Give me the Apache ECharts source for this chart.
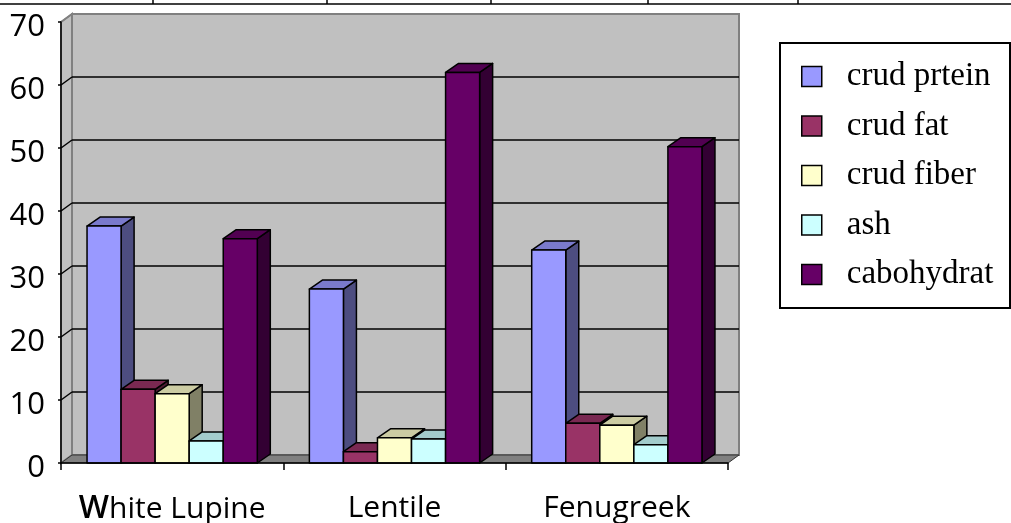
<!DOCTYPE html>
<html>
<head>
<meta charset="utf-8">
<script src="https://cdn.jsdelivr.net/npm/echarts@6/dist/echarts.min.js"></script>
<style>
html,body{margin:0;padding:0;background:#fff;}
#chart{width:1011px;height:523px;}
</style>
</head>
<body>
<div id="chart"></div>
<script>
// ---- data ----
const categories = ['White Lupine', 'Lentile', 'Fenugreek'];
const seriesNames = ['crud prtein', 'crud fat', 'crud fiber', 'ash', 'cabohydrat'];
const crudProtein = [37.6, 27.6, 33.8];
const crudFat = [11.7, 1.8, 6.3];
const crudFiber = [11.0, 4.0, 6.0];
const ash = [3.5, 3.8, 2.9];
const cabohydrat = [35.6, 62.0, 50.2];
const yTickValues = [0, 10, 20, 30, 40, 50, 60, 70];

const seriesValues = [crudProtein, crudFat, crudFiber, ash, cabohydrat];

// ---- style ----
const frontColors = ['#9999ff', '#993366', '#ffffcc', '#ccffff', '#660066'];
const topColors   = ['#7a7acc', '#7a2952', '#cccca3', '#a3cccc', '#520052'];
const sideColors  = ['#4d4d80', '#4d1a33', '#808066', '#668080', '#330033'];
const BAR_FRAC = 34 / 222;
const BAR_DX = 13, BAR_DY = 9;
const WALL_DX = 11, WALL_DY = 8;

const chart = echarts.init(document.getElementById('chart'), null, {renderer: 'canvas'});

function barRenderer(sIdx) {
  return function (params, api) {
    const cat = api.value(0), val = api.value(1);
    const base = api.coord([cat, 0]);
    const top = api.coord([cat, val]);
    const band = api.size([1, 0])[0];
    const w = band * BAR_FRAC;
    const x0 = base[0] - 2.5 * w + sIdx * w;
    const x1 = x0 + w;
    const yb = base[1], yt = top[1];
    const lineStyle = {stroke: '#000', lineWidth: 1.5, lineJoin: 'round'};
    return {
      type: 'group',
      children: [
        {type: 'polygon', shape: {points: [[x1, yt], [x1 + BAR_DX, yt - BAR_DY], [x1 + BAR_DX, yb - BAR_DY], [x1, yb]]},
          style: Object.assign({fill: sideColors[sIdx]}, lineStyle)},
        {type: 'polygon', shape: {points: [[x0, yt], [x0 + BAR_DX, yt - BAR_DY], [x1 + BAR_DX, yt - BAR_DY], [x1, yt]]},
          style: Object.assign({fill: topColors[sIdx]}, lineStyle)},
        {type: 'polygon', shape: {points: [[x0, yt], [x1, yt], [x1, yb], [x0, yb]]},
          style: Object.assign({fill: frontColors[sIdx]}, lineStyle)}
      ]
    };
  };
}

function frameRenderer(params, api) {
  const c0 = api.coord([0, 0]);
  const band = api.size([1, 0])[0];
  const L = c0[0] - band / 2;
  const R = L + band * categories.length;
  const B = c0[1];
  const T = api.coord([0, yTickValues[yTickValues.length - 1]])[1];
  const children = [];
  // back wall
  children.push({type: 'polygon', shape: {points: [[L + WALL_DX, T - WALL_DY], [R + WALL_DX, T - WALL_DY], [R + WALL_DX, B - WALL_DY], [L + WALL_DX, B - WALL_DY]]},
    style: {fill: '#c0c0c0', stroke: '#808080', lineWidth: 2}});
  // side wall
  children.push({type: 'polygon', shape: {points: [[L, T], [L + WALL_DX, T - WALL_DY], [L + WALL_DX, B - WALL_DY], [L, B]]},
    style: {fill: '#c0c0c0', stroke: '#808080', lineWidth: 2}});
  // gridlines
  yTickValues.forEach(function (v, i) {
    if (i === 0) return;
    const y = api.coord([0, v])[1];
    const last = i === yTickValues.length - 1;
    const col = last ? '#808080' : '#000';
    if (!last) {
      children.push({type: 'line', shape: {x1: L + WALL_DX, y1: y - WALL_DY, x2: R + WALL_DX, y2: y - WALL_DY}, style: {stroke: col, lineWidth: 1.5}});
    }
    children.push({type: 'line', shape: {x1: L, y1: y, x2: L + WALL_DX, y2: y - WALL_DY}, style: {stroke: col, lineWidth: 1.5}});
  });
  // floor
  children.push({type: 'polygon', shape: {points: [[L, B], [L + WALL_DX, B - WALL_DY], [R + WALL_DX, B - WALL_DY], [R, B]]},
    style: {fill: '#808080', stroke: '#333', lineWidth: 1}});
  return {type: 'group', children: children};
}

const series = [{
  name: '_frame',
  type: 'custom',
  z: 1,
  silent: true,
  renderItem: frameRenderer,
  data: [[0, 0]],
  encode: {x: 0, y: 1}
}];
seriesNames.forEach(function (name, s) {
  series.push({
    name: name,
    type: 'custom',
    z: 2 + s,
    renderItem: barRenderer(s),
    itemStyle: {color: frontColors[s], borderColor: '#000', borderWidth: 1.5},
    data: seriesValues[s].map(function (v, i) { return [i, v]; }),
    encode: {x: 0, y: 1}
  });
});

const option = {
  animation: false,
  backgroundColor: '#ffffff',
  grid: {left: 61, right: 283, top: 22, bottom: 60, containLabel: false, outerBoundsMode: 'none'},
  xAxis: {
    type: 'category',
    data: categories,
    boundaryGap: true,
    z: 10,
    axisLine: {lineStyle: {color: '#000', width: 1.5}},
    axisTick: {show: true, length: 7, lineStyle: {color: '#000', width: 1.5}},
    axisLabel: {
      interval: 0,
      hideOverlap: false,
      margin: 30,
      color: '#000',
      fontFamily: 'Open Sans',
      fontSize: 30,
      formatter: function (v) {
        return v.charAt(0) === 'W' ? '{w|W}{n|' + v.slice(1) + '}' : '{n|' + v + '}';
      },
      rich: {
        w: {fontFamily: 'Open Sans', fontSize: 32, fontWeight: 600, color: '#000'},
        n: {fontFamily: 'Open Sans', fontSize: 30, color: '#000'}
      }
    },
    splitLine: {show: false}
  },
  yAxis: {
    type: 'value',
    min: 0,
    max: 70,
    interval: 10,
    z: 10,
    axisLine: {show: true, lineStyle: {color: '#000', width: 1.5}},
    axisTick: {show: true, length: 3, lineStyle: {color: '#000', width: 1.5}},
    axisLabel: {margin: 16, color: '#000', fontFamily: 'Open Sans', fontSize: 31, verticalAlign: 'top', lineHeight: 10},
    splitLine: {show: false}
  },
  legend: {
    data: seriesNames,
    orient: 'vertical',
    left: 801,
    top: 60,
    padding: 0,
    itemWidth: 20,
    itemHeight: 20,
    itemGap: 16.5,
    icon: 'rect',
    itemStyle: {borderColor: '#000', borderWidth: 1.5},
    textStyle: {fontFamily: 'Liberation Serif', fontSize: 33, lineHeight: 30, color: '#000', padding: [0, 0, 0, 20]},
    selectedMode: false
  },
  graphic: [
    {type: 'rect', z: -1, shape: {x: 780, y: 43, width: 230, height: 265}, style: {fill: '#fff', stroke: '#000', lineWidth: 2}},
    {type: 'line', shape: {x1: 0, y1: 4, x2: 1011, y2: 4}, style: {stroke: '#000', lineWidth: 1.5}},
    {type: 'line', shape: {x1: 153, y1: 0, x2: 153, y2: 4}, style: {stroke: '#000', lineWidth: 1.5}},
    {type: 'line', shape: {x1: 327, y1: 0, x2: 327, y2: 4}, style: {stroke: '#000', lineWidth: 1.5}},
    {type: 'line', shape: {x1: 491, y1: 0, x2: 491, y2: 4}, style: {stroke: '#000', lineWidth: 1.5}},
    {type: 'line', shape: {x1: 648, y1: 0, x2: 648, y2: 4}, style: {stroke: '#000', lineWidth: 1.5}},
    {type: 'line', shape: {x1: 798, y1: 0, x2: 798, y2: 4}, style: {stroke: '#000', lineWidth: 1.5}}
  ],
  series: series
};
chart.setOption(option);
</script>
</body>
</html>
